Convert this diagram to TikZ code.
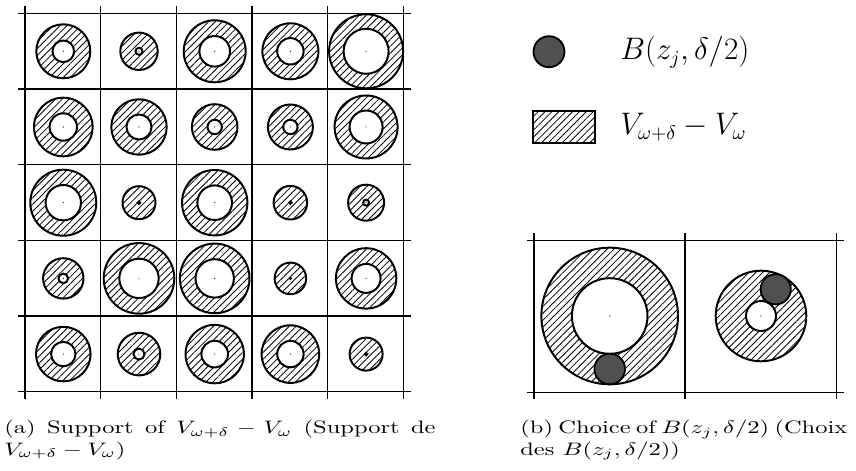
\documentclass[tikz,border=0pt]{standalone}
\usepackage{amsmath, amssymb}
\usetikzlibrary{patterns.meta}
\definecolor{ballgray}{RGB}{80, 80, 80}

\tikzset{
  hatched/.style={pattern={Lines[angle=45, distance=2.7pt, line width=0.45pt]}},
  ring/.style={draw, line width=1.1pt, hatched, even odd rule},
  gridline/.style={line width=0.7pt},
  ball/.style={draw, line width=1pt, fill=ballgray},
  legtext/.style={anchor=base west, inner sep=0pt, font=\fontsize{16}{19}\selectfont},
  captext/.style={anchor=base west, inner sep=0pt},
}
% caption line, widened as in the figure
\newcommand{\capline}[1]{\scalebox{1.36}[1]{#1}}

\begin{document}
\begin{tikzpicture}[x=0.555pt, y=-0.555pt]
        \useasboundingbox (0,0) rectangle (856,471);
        % Left grid of cells
        \foreach \i in {0,...,5} {
          \draw[gridline] (25+75.7*\i, 6) -- (25+75.7*\i, 399);
          \draw[gridline] (18, 13.3+75.7*\i) -- (411, 13.3+75.7*\i);
        }
        % Rings V_{omega+delta} - V_omega, one per cell
        \foreach \col/\row/\R/\r in {
            0/0/27/10.8, 1/0/18.7/3.5, 2/0/31/15.3, 3/0/28/13.2, 4/0/37/22.5,
            0/1/29.3/13.7, 1/1/27.7/12.5, 2/1/22.8/7.2, 3/1/22.5/7.2, 4/1/31.5/16.5,
            0/2/33/17.7, 1/2/16.5/1.2, 2/2/32.7/17.3, 3/2/16.8/1.2, 4/2/18/3,
            0/3/20.2/4.8, 1/3/35.3/19.7, 2/3/34.8/19.2, 3/3/15.8/0.5, 4/3/30.2/14.5,
            0/4/27.3/12.2, 1/4/21.3/5.5, 2/4/29.2/13.3, 3/4/28.8/13.2, 4/4/16.5/1.2} {
          \pgfmathsetmacro{\cx}{63.3+75.7*\col}
          \pgfmathsetmacro{\cy}{51.3+75.7*\row}
          \draw[ring] (\cx,\cy) circle (\R) (\cx,\cy) circle (\r);
          \fill (\cx,\cy) circle (0.6);
        }
        % Legend
        \draw[ball] (549,51.7) circle (15.5);
        \node[legtext] (legball) at (620,60) {$B(z_j,\delta/2)$};
        \draw[line width=1pt, hatched] (533,111) rectangle (595,142.7);
        \node[legtext] (legring) at (620,135) {$V_{\omega+\delta}-V_\omega$};
        % Right grid (two cells)
        \foreach \x in {534,685,836.7}
          \draw[gridline] (\x,233) -- (\x,399);
        \foreach \y in {240.7,392.3}
          \draw[gridline] (527,\y) -- (844,\y);
        % Big ring with ball below the hole
        \draw[ring] (609.7,316) circle (68.3) (609.7,316) circle (37.8);
        \fill (609.7,316) circle (0.6);
        \draw[ball] (609.7,369) circle (15.3);
        % Small ring with ball beside the hole
        \draw[ring] (761,316) circle (45.3) (761,316) circle (15);
        \fill (761,316) circle (0.6);
        \draw[ball] (775.7,289.3) circle (15.1);
        % Captions
        \node[captext] (capa1) at (4,433.7)
          {\capline{\hbox to 176pt{(a) Support of $V_{\omega+\delta}-V_\omega$ (Support de}}};
        \node[captext] (capa2) at (4,455.3) {\capline{$V_{\omega+\delta}-V_\omega$)}};
        \node[captext] (capb1) at (520,433.7)
          {\capline{\hbox to 132.5pt{(b) Choice of $B(z_j,\delta/2)$ (Choix}}};
        \node[captext] (capb2) at (520,455.3) {\capline{des $B(z_j,\delta/2)$)}};
\end{tikzpicture}
\end{document}
